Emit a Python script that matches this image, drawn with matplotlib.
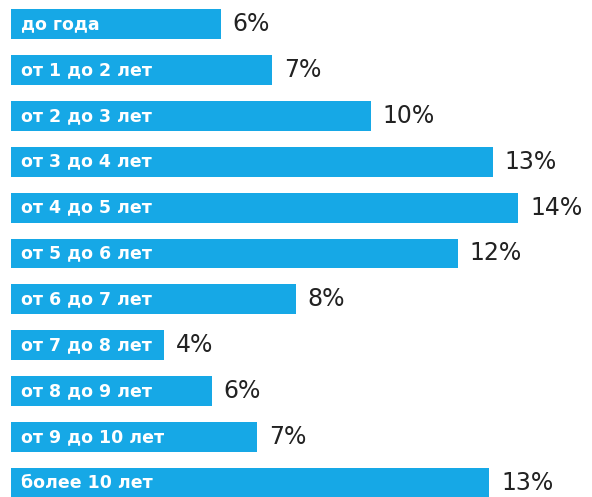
import matplotlib
matplotlib.use("Agg")
import matplotlib.pyplot as plt

categories = ["до года", "от 1 до 2 лет", "от 2 до 3 лет", "от 3 до 4 лет",
              "от 4 до 5 лет", "от 5 до 6 лет", "от 6 до 7 лет", "от 7 до 8 лет",
              "от 8 до 9 лет", "от 9 до 10 лет", "более 10 лет"]
# bar lengths as drawn in the picture (percent)
values = [5.75, 7.15, 9.85, 13.2, 13.9, 12.25, 7.8, 4.2, 5.5, 6.75, 13.1]
value_labels = ["6%", "7%", "10%", "13%", "14%", "12%", "8%", "4%", "6%", "7%", "13%"]

W, H = 592, 497
fig = plt.figure(figsize=(W / 100, H / 100), dpi=100)
ax = fig.add_axes([0, 0, 1, 1])

px_per_unit = 36.5
x0 = 11
ax.set_xlim(-x0 / px_per_unit, (W - x0) / px_per_unit)
step = 45.9
c0 = 24
ax.set_ylim((H - c0) / step, -c0 / step)

ypos = list(range(len(categories)))
color = "#16a8e6"
ax.barh(ypos, values, height=0.65, color=color, edgecolor="none")

for y, v, cat, lab in zip(ypos, values, categories, value_labels):
    ax.annotate(cat, (0, y), xytext=(7.5, 0), textcoords="offset points",
                ha="left", va="center", color="white", fontsize=12.5,
                fontweight="bold", family="DejaVu Sans")
    ax.annotate(lab, (v, y), xytext=(8.5, 0), textcoords="offset points",
                ha="left", va="center", color="#222222", fontsize=17,
                family="DejaVu Sans")

ax.axis("off")
fig.savefig("out.png", dpi=100, facecolor="white")
